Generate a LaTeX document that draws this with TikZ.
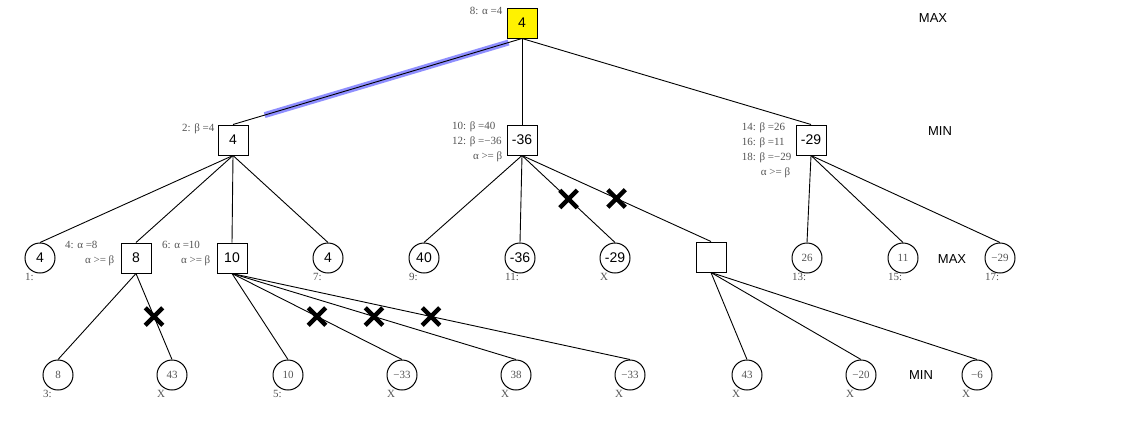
\documentclass[tikz,border=0pt]{standalone}
\usepackage{fontspec}
\setmainfont{Liberation Serif}
\setsansfont{Liberation Sans}
\usetikzlibrary{positioning}
\usetikzlibrary{shapes.misc}
\definecolor{notizgrau}{rgb}{0.33,0.33,0.33}
\definecolor{pfadblau}{rgb}{0.45,0.45,1}

\tikzset{
  kasten/.style={draw, line width=1pt, minimum size=30pt, inner sep=0pt, font=\sffamily\fontsize{14}{16}\selectfont},
  kreis/.style={draw, circle, line width=1pt, minimum size=30pt, inner sep=0pt, font=\sffamily\fontsize{14}{16}\selectfont},
  blatt/.style={kreis, font=\fontsize{11}{13}\selectfont, text=notizgrau},
  notiz/.style={font=\fontsize{11}{15}\selectfont, text=notizgrau, align=left, inner sep=1pt},
  nummer/.style={notiz, anchor=north west},
  ebene/.style={font=\sffamily\fontsize{13}{15}\selectfont},
  kante/.style={line width=0.9pt},
  schnitt/.style={cross out, draw, line width=4.5pt, minimum size=13pt, inner sep=0pt}
}

\begin{document}
\begin{tikzpicture}[x=1pt, y=-1pt] % 1px = 1pt, y nach unten
\useasboundingbox (0,0) rectangle (1131,437);

% Wurzel (MAX)
\node[kasten, fill=yellow] (w) at (522,23) {4};
\node[notiz, anchor=north east] (w-n) at ([xshift=-3pt, yshift=2pt]w.north west) {8: α =4};

% Ebene 1 (MIN)
\node[kasten] (a) at (233,140) {4};
\node[kasten] (b) at (522,140) {-36};
\node[kasten] (c) at (811,140) {-29};
\node[notiz, anchor=north east] (a-n) at ([xshift=-2pt, yshift=2pt]a.north west) {2: β =4};
\node[notiz, anchor=north east] (b-n) at ([xshift=-3pt, yshift=4pt]b.north west) {10: β =40\\12: β =−36\\\hspace*{21pt}α >= β};
\node[notiz, anchor=north east] (c-n) at ([xshift=-3pt, yshift=3pt]c.north west) {14: β =26\\16: β =11\\18: β =−29\\\hspace*{19pt}α >= β};

% Ebene 2 (MAX)
\foreach \name/\x/\wert/\nr in {a1/40/4/1:, a4/328/4/7:, b1/424/40/9:, b2/520/-36/11:, b3/615/-29/X} {
  \node[kreis] (\name) at (\x,258) {\wert};
  \node[nummer] (\name-n) at (\x-16,272) {\nr}; % Nummer unten
}
\foreach \name/\x/\wert/\nr in {c1/807/26/13:, c2/903/11/15:, c3/1000/−29/17:} {
  \node[blatt] (\name) at (\x,258) {\wert};
  \node[nummer] (\name-n) at (\x-16,272) {\nr};
}
\node[kasten] (a2) at (136,258) {8};
\node[kasten] (a3) at (232,258) {10};
\node[kasten] (b4) at (711,257) {};
\node[notiz, anchor=north east] (a2-n) at ([xshift=-5pt, yshift=3pt]a2.north west) {4: α =8\\\hspace*{20pt}α >= β};
\node[notiz, anchor=north east] (a3-n) at ([xshift=-5pt, yshift=3pt]a3.north west) {6: α =10\\\hspace*{19pt}α >= β};

% Ebene 3 (MIN)
\foreach \name/\x/\wert/\nr in {a21/58/8/3:, a22/172/43/X, a31/288/10/5:, a32/402/−33/X, a33/516/38/X, a34/630/−33/X, b41/747/43/X, b42/861/−20/X, b43/977/−6/X} {
  \node[blatt] (\name) at (\x,375) {\wert};
  \node[nummer] (\name-n) at (\x-16,389) {\nr};
}

% Ebenen rechts
\node[ebene] (e0) at (933,18) {MAX};
\node[ebene] (e1) at (940,131) {MIN};
\node[ebene] (e2) at (952,259) {MAX};
\node[ebene] (e3) at (921,375) {MIN};

% Hauptvariante markiert
\draw[pfadblau, line width=6pt, opacity=0.8, shorten <=14pt, shorten >=33pt] (w.south) -- (a.north);

% Kanten
\foreach \k in {a,b,c} \draw[kante] (w.south) -- (\k.north);
\foreach \k in {a1,a2,a3,a4} \draw[kante] (a.south) -- (\k.north);
\foreach \k in {b1,b2} \draw[kante] (b.south) -- (\k.north);
\foreach \k in {c1,c2,c3} \draw[kante] (c.south) -- (\k.north);
\foreach \k in {b41,b42,b43} \draw[kante] (b4.south) -- (\k.north);
\draw[kante] (a2.south) -- (a21.north);
\draw[kante] (a3.south) -- (a31.north);

% abgeschnittene Kanten
\draw[kante] (a2.south) -- node[schnitt] (x1) {} (a22.north);
\draw[kante] (a3.south) -- node[schnitt] (x2) {} (a32.north);
\draw[kante] (a3.south) -- node[schnitt] (x3) {} (a33.north);
\draw[kante] (a3.south) -- node[schnitt] (x4) {} (a34.north);
\draw[kante] (b.south) -- node[schnitt] (x5) {} (b3.north);
\draw[kante] (b.south) -- node[schnitt] (x6) {} (b4.north);

\end{tikzpicture}
\end{document}
